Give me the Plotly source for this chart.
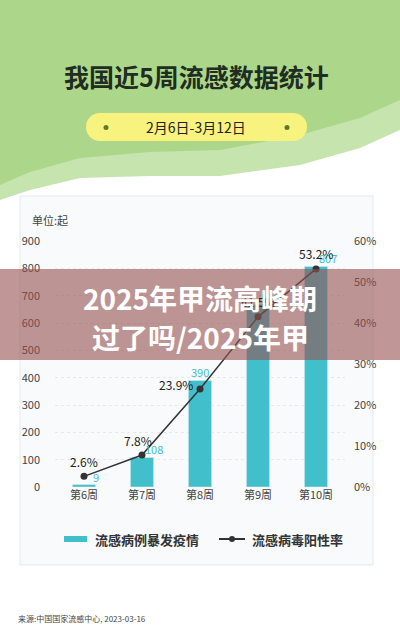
import plotly.graph_objects as go

weeks = ["第6周", "第7周", "第8周", "第9周", "第10周"]
outbreaks = [9, 108, 390, 669, 807]
positivity = [2.6, 7.8, 23.9, 41.5, 53.2]
left_ticks = [0, 100, 200, 300, 400, 500, 600, 700, 800, 900]
right_ticks = [0, 10, 20, 30, 40, 50, 60]

W, H = 400, 627
L, R, T, B = 55, 55, 241, 140
PW, PH = W - L - R, H - T - B
def px(x): return (x - L) / PW
def py(y): return (H - B - y) / PH

FONT = "Noto Sans CJK SC"
fig = go.Figure()
fig.add_bar(x=weeks, y=outbreaks, marker_color="#41c0cc", width=0.4, yaxis="y", name="流感病例暴发疫情")
fig.add_scatter(x=weeks, y=positivity, yaxis="y2", mode="lines+markers",
                line=dict(color="#333", width=1.5), marker=dict(size=7, color="#333"), name="流感病毒阳性率")

shapes, ann = [], []
shapes.append(dict(type="rect", xref="paper", yref="paper", x0=px(0), x1=px(400), y0=py(627), y1=py(0),
                   fillcolor="white", line_width=0, layer="below"))
def path(points):
    return "M" + " L".join(f"{px(a)},{py(b)}" for a, b in points) + " Z"
shapes.append(dict(type="path", xref="paper", yref="paper", layer="below", line_width=0, fillcolor="#c6e4ae",
                   path=path([(0,0),(400,0),(400,130),(360,148),(300,165),(220,176),(150,176),(80,178),(30,190),(0,200)])))
shapes.append(dict(type="path", xref="paper", yref="paper", layer="below", line_width=0, fillcolor="#acd78a",
                   path=path([(0,0),(400,0),(400,100),(360,118),(300,135),(220,150),(150,152),(80,158),(30,172),(0,185)])))
shapes.append(dict(type="rect", xref="paper", yref="paper", layer="below", line_width=0, fillcolor="#f8f27e",
                   x0=px(100), x1=px(293), y0=py(141), y1=py(113)))
for cx in (100, 293):
    shapes.append(dict(type="circle", xref="paper", yref="paper", layer="below", line_width=0, fillcolor="#f8f27e",
                       x0=px(cx-14), x1=px(cx+14), y0=py(141), y1=py(113)))
for cx in (106, 287):
    shapes.append(dict(type="circle", xref="paper", yref="paper", layer="below", line_width=0, fillcolor="#5c7a2c",
                       x0=px(cx-2.5), x1=px(cx+2.5), y0=py(130), y1=py(125)))
shapes.append(dict(type="rect", xref="paper", yref="paper", layer="below", line=dict(color="#e6eaed", width=1),
                   fillcolor="#f8fafb", x0=px(20), x1=px(373), y0=py(565), y1=py(196)))
shapes.append(dict(type="rect", xref="paper", yref="paper", line_width=0, fillcolor="#41c0cc",
                   x0=px(64), x1=px(87), y0=py(542), y1=py(536)))
shapes.append(dict(type="line", xref="paper", yref="paper", line=dict(color="#333", width=2),
                   x0=px(219), x1=px(245), y0=py(539), y1=py(539)))
shapes.append(dict(type="circle", xref="paper", yref="paper", line_width=0, fillcolor="#333",
                   x0=px(229), x1=px(235), y0=py(542), y1=py(536)))
shapes.append(dict(type="rect", xref="paper", yref="paper", line_width=0, fillcolor="rgba(150,80,80,0.6)",
                   x0=px(0), x1=px(400), y0=py(360), y1=py(269), layer="above"))

def txt(x, y, s, size, color="#333", bold=False, xanchor="center"):
    ann.append(dict(xref="paper", yref="paper", x=px(x), y=py(y), text=f"<b>{s}</b>" if bold else s,
                    showarrow=False, xanchor=xanchor, yanchor="middle", font=dict(size=size, color=color, family=FONT)))
txt(196, 76, "我国近5周流感数据统计", 25, "#1f2d22", True)
txt(196, 127, "2月6日-3月12日", 14, "#222")
txt(30, 220, "单位:起", 11, "#444", xanchor="left")
txt(93, 539, "流感病例暴发疫情", 13, "#333", True, "left")
txt(250, 539, "流感病毒阳性率", 13, "#333", True, "left")
txt(16, 618, "来源:中国国家流感中心, 2023-03-16", 8, "#444", xanchor="left")

for i, (w, v) in enumerate(zip(weeks, outbreaks)):
    ann.append(dict(x=w, y=v, yref="y", text=str(v), showarrow=False, xshift=12 if i != 2 else 0, yshift=8,
                    font=dict(size=11, color="#41c0cc", family=FONT)))
lab_shift = [(0, 15), (-4, 15), (-24, 5), (0, 15), (0, 15)]
for (w, v), (dx, dy) in zip(zip(weeks, positivity), lab_shift):
    ann.append(dict(x=w, y=v, yref="y2", text=f"{v}%", showarrow=False, xshift=dx, yshift=dy,
                    font=dict(size=12, color="#222", family=FONT)))
for y, s in ((298, "2025年甲流高峰期"), (337, "过了吗/2025年甲")):
    txt(200, y, s, 28, "white", True)

fig.update_layout(
    width=W, height=H, margin=dict(l=L, r=R, t=T, b=B), showlegend=False,
    paper_bgcolor="white", plot_bgcolor="rgba(0,0,0,0)", shapes=shapes, annotations=ann,
    font=dict(family=FONT, color="#444", size=11), bargap=0.5,
    xaxis=dict(showline=False, ticks="", tickfont=dict(size=11)),
    yaxis=dict(range=[0, 900], tickvals=left_ticks, gridcolor="#e6e8ea", griddash="dot", zeroline=False,
               tickfont=dict(size=11), ticklabelstandoff=14),
    yaxis2=dict(range=[0, 60], overlaying="y", side="right", tickvals=right_ticks,
                ticktext=[f"{t}%" for t in right_ticks],
                showgrid=False, zeroline=False, tickfont=dict(size=11), ticklabelstandoff=8),
)
fig.write_html("out.html", config={"displayModeBar": False},
               post_script="document.body.style.margin='0';document.body.style.overflow='hidden';")
